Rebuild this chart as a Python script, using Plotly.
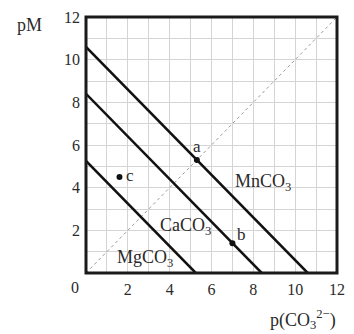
import plotly.graph_objects as go

# Data
salts = ["MnCO<sub>3</sub>", "CaCO<sub>3</sub>", "MgCO<sub>3</sub>"]
pKsp = [10.6, 8.4, 5.25]
point_names = ["a", "b", "c"]
point_x = [5.3, 7.0, 1.6]
point_y = [5.3, 1.4, 4.5]
diag_x = [0, 12]
diag_y = [0, 12]
tick_vals = [2, 4, 6, 8, 10, 12]
tick_text = ["2", "4", "6", "8", "10", "12"]

FONT = "Liberation Serif"
TXT = "#2a2a2a"
fig = go.Figure()

# dotted diagonal
fig.add_trace(go.Scatter(x=diag_x, y=diag_y, mode="lines",
                         line=dict(color="#9a9a9a", width=1, dash="dot"),
                         hoverinfo="skip", showlegend=False))

for name, k in zip(salts, pKsp):
    fig.add_trace(go.Scatter(x=[0, k], y=[k, 0], mode="lines",
                             line=dict(color="#111111", width=2.5),
                             name=name, showlegend=False))

fig.add_trace(go.Scatter(x=point_x, y=point_y, mode="markers",
                         marker=dict(color="#111111", size=6),
                         showlegend=False))

# point labels
lab_pos = {"a": (5.3, 5.95), "b": (7.45, 1.8), "c": (2.1, 4.55)}
for n in point_names:
    fig.add_annotation(x=lab_pos[n][0], y=lab_pos[n][1], text=n, showarrow=False,
                       font=dict(family=FONT, size=17, color=TXT))

# curve labels
curve_pos = [(8.45, 4.25), (4.75, 2.2), (2.8, 0.7)]
for name, (cx, cy) in zip(salts, curve_pos):
    fig.add_annotation(x=cx, y=cy, text=name, showarrow=False,
                       font=dict(family=FONT, size=18, color=TXT))

# origin label and axis titles
fig.add_annotation(xref="paper", yref="paper", x=-0.043, y=-0.055, text="0",
                   xanchor="center", yanchor="middle",
                   showarrow=False, font=dict(family=FONT, size=16, color=TXT))
fig.add_annotation(xref="paper", yref="paper", x=-0.224, y=0.97, text="pM",
                   xanchor="center", yanchor="middle",
                   showarrow=False, font=dict(family=FONT, size=18, color=TXT))
fig.add_annotation(xref="paper", yref="paper", x=0.865, y=-0.183,
                   text="p(CO<sub>3</sub><sup>2−</sup>)",
                   xanchor="center", yanchor="middle",
                   showarrow=False, font=dict(family=FONT, size=18, color=TXT))

axis_common = dict(range=[0, 12], showgrid=True, gridcolor="#d4d4d4", gridwidth=1,
                   tickmode="array", tickvals=tick_vals, ticktext=tick_text,
                   showline=False, ticks="", zeroline=False, ticklabelstandoff=5,
                   tickfont=dict(family=FONT, size=16, color=TXT),
                   minor=dict(dtick=1, showgrid=True, gridcolor="#d4d4d4",
                              gridwidth=1, ticks=""))

fig.update_xaxes(**axis_common)
fig.update_yaxes(**axis_common)

# thick frame
fig.add_shape(type="rect", xref="paper", yref="paper", x0=0, y0=0, x1=1, y1=1,
              line=dict(color="#1a1a1a", width=3), layer="above")

fig.update_layout(width=354, height=334,
                  margin=dict(l=86, r=9, t=17, b=61),
                  plot_bgcolor="white", paper_bgcolor="white")
fig.write_html("out.html", config={"displayModeBar": False},
               post_script="document.body.style.margin='0';document.body.style.overflow='hidden';")
